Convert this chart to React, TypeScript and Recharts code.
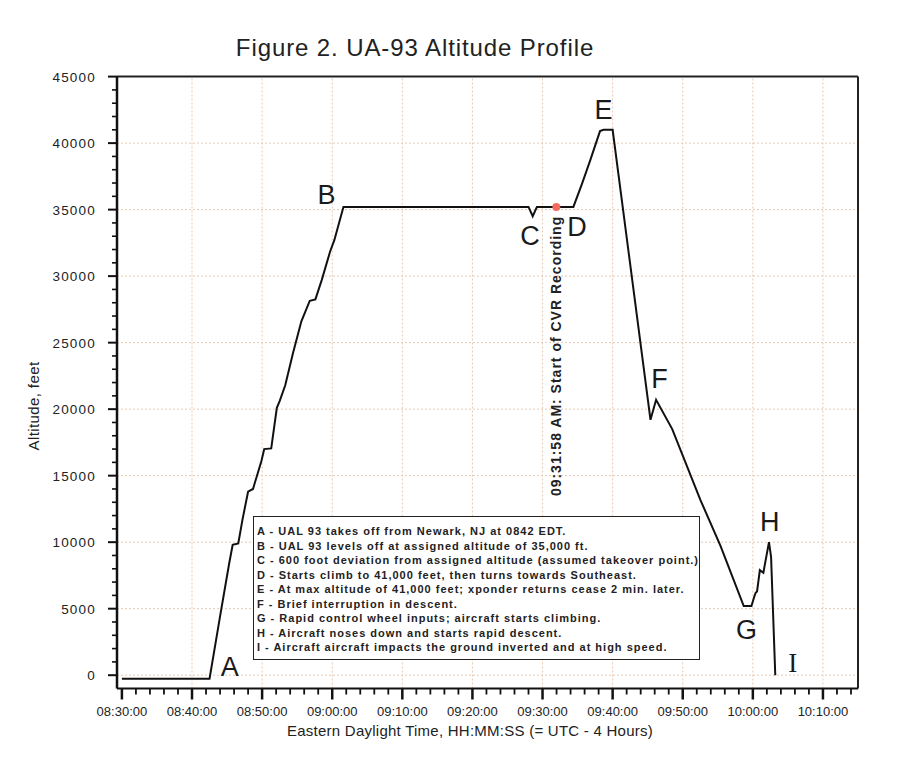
import { LineChart, Line, XAxis, YAxis, ReferenceLine, ReferenceDot } from "recharts";

// minutes after 08:30:00 EDT
const TIMES = [
  0, 12.5, 14.0, 15.3, 15.8, 16.6, 17.2, 18.0, 18.7, 19.9, 20.3, 21.3, 22.1, 22.5, 23.3,
  24.4, 25.6, 26.8, 27.6, 28.5, 29.7, 30.3, 31.6, 58.0, 58.6, 59.2, 64.4, 65.6, 66.8,
  68.2, 68.7, 70.0, 75.4, 76.2, 78.5, 82.5, 85.4, 88.7, 89.8, 90.2, 90.4, 90.6, 91.0,
  91.5, 92.3, 92.6, 93.2,
];
// altitude, feet
const ALTS = [
  -260, -260, 4420, 8400, 9800, 9900, 11700, 13800, 14000, 16100, 17000, 17050, 20100,
  20600, 21800, 24200, 26600, 28150, 28250, 29700, 31850, 32700, 35200, 35200, 34500,
  35200, 35200, 36900, 38700, 40900, 41000, 41000, 19200, 20700, 18500, 13200, 9700,
  5200, 5200, 5900, 6200, 6300, 7900, 7700, 10000, 8900, 0,
];

const X_MAJOR = [0, 10, 20, 30, 40, 50, 60, 70, 80, 90, 100];
const X_LABELS = [
  "08:30:00", "08:40:00", "08:50:00", "09:00:00", "09:10:00", "09:20:00",
  "09:30:00", "09:40:00", "09:50:00", "10:00:00", "10:10:00",
];
const X_MINOR = [
  0, 2, 4, 6, 8, 10, 12, 14, 16, 18, 20, 22, 24, 26, 28, 30, 32, 34, 36, 38, 40, 42, 44,
  46, 48, 50, 52, 54, 56, 58, 60, 62, 64, 66, 68, 70, 72, 74, 76, 78, 80, 82, 84, 86, 88,
  90, 92, 94, 96, 98, 100, 102, 104,
];
const Y_MAJOR = [0, 5000, 10000, 15000, 20000, 25000, 30000, 35000, 40000, 45000];
const Y_MINOR = [
  0, 1000, 2000, 3000, 4000, 5000, 6000, 7000, 8000, 9000, 10000, 11000, 12000, 13000,
  14000, 15000, 16000, 17000, 18000, 19000, 20000, 21000, 22000, 23000, 24000, 25000,
  26000, 27000, 28000, 29000, 30000, 31000, 32000, 33000, 34000, 35000, 36000, 37000,
  38000, 39000, 40000, 41000, 42000, 43000, 44000, 45000,
];

// event letters: [letter, minute, altitude]
const MARKERS: [string, number, number][] = [
  ["A", 15.4, 640],
  ["B", 29.2, 36100],
  ["C", 58.2, 33050],
  ["D", 64.9, 33700],
  ["E", 68.7, 42500],
  ["F", 76.7, 22300],
  ["G", 89.1, 3400],
  ["H", 92.4, 11500],
];
const CRASH_MARK: [string, number, number] = ["I", 95.7, 900];

const CVR_TIME = 61.97;
const CVR_ALT = 35200;
const CVR_TEXT = "09:31:58 AM: Start of CVR Recording";

const NOTES = [
  "A - UAL 93 takes off from Newark, NJ at 0842 EDT.",
  "B - UAL 93 levels off at assigned altitude of 35,000 ft.",
  "C - 600 foot deviation from assigned altitude (assumed takeover point.)",
  "D - Starts climb to 41,000 feet, then turns towards Southeast.",
  "E - At max altitude of 41,000 feet; xponder returns cease 2 min. later.",
  "F - Brief interruption in descent.",
  "G - Rapid control wheel inputs; aircraft starts climbing.",
  "H - Aircraft noses down and starts rapid descent.",
  "I - Aircraft aircraft impacts the ground inverted and at high speed.",
];

const data = TIMES.map((t, i) => ({ t, alt: ALTS[i] }));

const FONT = "'Liberation Sans', Arial, sans-serif";
const GRID = "#e6c9b2";

function XTick(p: any) {
  const v = p.payload.value;
  const i = X_MAJOR.indexOf(v);
  const major = i >= 0;
  return (
    <g>
      <line x1={p.x} x2={p.x} y1={p.y} y2={p.y + (major ? 11 : 6)} stroke="#111" strokeWidth={major ? 2.5 : 1.8} />
      {major && (
        <text x={p.x} y={p.y + 27} textAnchor="middle" fontSize={13} fill="#222" fontFamily={FONT}>
          {X_LABELS[i]}
        </text>
      )}
    </g>
  );
}

function YTick(p: any) {
  const v = p.payload.value;
  const major = Y_MAJOR.includes(v);
  return (
    <g>
      <line x1={p.x} x2={p.x - (major ? 9 : 5)} y1={p.y} y2={p.y} stroke="#111" strokeWidth={major ? 2 : 1.6} />
      {major && (
        <text x={p.x - 21} y={p.y + 5} textAnchor="end" fontSize={13.5} letterSpacing={1.2} fill="#222" fontFamily={FONT}>
          {v}
        </text>
      )}
    </g>
  );
}

export default function App() {
  return (
    <div style={{ position: "relative", width: 880, height: 740, fontFamily: FONT, color: "#222" }}>
      <LineChart width={880} height={740} data={data} margin={{ top: 68.6, right: 30, left: 49, bottom: 9.5 }}>
        {X_MAJOR.filter((v) => v > 0).map((v) => (
          <ReferenceLine key={"gx" + v} x={v} stroke={GRID} strokeDasharray="2 2" strokeWidth={1} />
        ))}
        {Y_MAJOR.filter((v) => v < 45000).map((v) => (
          <ReferenceLine key={"gy" + v} y={v} stroke={GRID} strokeDasharray="2 2" strokeWidth={1} />
        ))}
        <ReferenceLine y={45000} stroke="#222" strokeWidth={2} />
        <ReferenceLine x={105} stroke="#222" strokeWidth={2} />
        <XAxis
          dataKey="t"
          type="number"
          domain={[-0.7, 105]}
          ticks={X_MINOR}
          interval={0}
          tick={XTick}
          tickLine={false}
          tickSize={0}
          tickMargin={0}
          axisLine={{ stroke: "#111", strokeWidth: 2 }}
          height={50}
          allowDataOverflow
        />
        <YAxis
          type="number"
          domain={[-1000, 45000]}
          ticks={Y_MINOR}
          interval={0}
          tick={YTick}
          tickLine={false}
          tickSize={0}
          tickMargin={0}
          axisLine={{ stroke: "#111", strokeWidth: 2.5 }}
          width={60}
          allowDataOverflow
        />
        <Line
          type="linear"
          dataKey="alt"
          stroke="#111"
          strokeWidth={2}
          dot={false}
          isAnimationActive={false}
        />
        <ReferenceDot x={CVR_TIME} y={CVR_ALT} r={4} fill="#f26b5e" stroke="none" />
        <ReferenceDot
          x={CVR_TIME}
          y={24000}
          r={0}
          ifOverflow="visible"
          shape={(p: any) => (
            <text
              x={p.cx}
              y={p.cy}
              transform={`rotate(-90 ${p.cx} ${p.cy})`}
              textAnchor="middle"
              dominantBaseline="central"
              fontSize={14}
              letterSpacing={1}
              fontWeight="bold"
              fill="#222"
              fontFamily={FONT}
            >
              {CVR_TEXT}
            </text>
          )}
        />
        {MARKERS.map(([m, t, a]) => (
          <ReferenceDot
            key={m}
            x={t}
            y={a}
            r={0}
            ifOverflow="visible"
            shape={(p: any) => (
              <text x={p.cx} y={p.cy} textAnchor="middle" dominantBaseline="central" fontSize={27} fill="#1a1a1a" fontFamily={FONT}>
                {m}
              </text>
            )}
          />
        ))}
        <ReferenceDot
          x={CRASH_MARK[1]}
          y={CRASH_MARK[2]}
          r={0}
          ifOverflow="visible"
          shape={(p: any) => (
            <text x={p.cx} y={p.cy} textAnchor="middle" dominantBaseline="central" fontSize={27} fill="#1a1a1a" fontFamily="'Liberation Serif', 'Times New Roman', serif">
              {CRASH_MARK[0]}
            </text>
          )}
        />
      </LineChart>

      <div style={{ position: "absolute", left: 407, top: 28.4, transform: "translateX(-50%)", fontSize: 24, lineHeight: "24px", letterSpacing: 0.9, whiteSpace: "nowrap" }}>
        Figure 2. UA-93 Altitude Profile
      </div>
      <div style={{ position: "absolute", left: 462, top: 715, transform: "translateX(-50%)", fontSize: 15, lineHeight: "15px", letterSpacing: 0.25, whiteSpace: "nowrap" }}>
        Eastern Daylight Time, HH:MM:SS (= UTC - 4 Hours)
      </div>
      <div
        style={{
          position: "absolute",
          left: 25,
          top: 398,
          transform: "translate(-50%, -50%) rotate(-90deg)",
          fontSize: 15,
          lineHeight: "15px",
          letterSpacing: 0.4,
          whiteSpace: "nowrap",
        }}
      >
        Altitude, feet
      </div>
      <div
        style={{
          position: "absolute",
          left: 245,
          top: 508,
          width: 447,
          height: 144,
          border: "1.5px solid #222",
          background: "#fff",
          padding: "7px 0 0 3px",
          boxSizing: "border-box",
          fontSize: 11,
          fontWeight: "bold",
          lineHeight: "14.5px",
          letterSpacing: 1,
          whiteSpace: "nowrap",
        }}
      >
        {NOTES.map((n) => (
          <div key={n}>{n}</div>
        ))}
      </div>
    </div>
  );
}
